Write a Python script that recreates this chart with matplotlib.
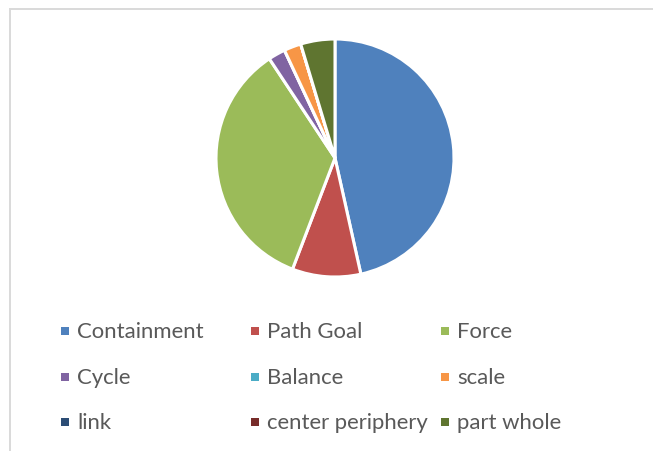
import matplotlib
matplotlib.use("Agg")
import matplotlib.pyplot as plt
from matplotlib.patches import Rectangle

# data (counts)
labels = ["Containment", "Path Goal", "Force",
          "Cycle", "Balance", "scale",
          "link", "center periphery", "part whole"]
values = [20, 4, 15, 1, 0, 1, 0, 0, 2]
colors = ["#4F81BD", "#C0504D", "#9BBB59",
          "#8064A2", "#4BACC6", "#F79646",
          "#2C4D75", "#772C2A", "#5F7530"]

plt.rcParams["font.family"] = ["Lato", "DejaVu Sans"]

W, H = 653, 452
fig = plt.figure(figsize=(W / 100, H / 100), dpi=100)

# chart frame
fig.patches.append(Rectangle((9.5 / W, -0.1), 1.2, 1 - 9.5 / H + 0.1,
                             transform=fig.transFigure, fill=False,
                             edgecolor="#D9D9D9", linewidth=1.4))

# pie
cx, cy, r = 335, 159, 119
ax = fig.add_axes([(cx - r) / W, (H - cy - r) / H, 2 * r / W, 2 * r / H])
ax.pie(values, colors=colors, startangle=90, counterclock=False,
       wedgeprops=dict(edgecolor="white", linewidth=2.2))
ax.set_aspect("equal")
ax.set_xlim(-1, 1)
ax.set_ylim(-1, 1)

# legend, 3 x 3 grid
col_x = [65, 255, 445]
row_y = [332, 378, 423]
for i, (lab, col) in enumerate(zip(labels, colors)):
    x = col_x[i % 3]
    y = row_y[i // 3]
    fig.patches.append(Rectangle(((x - 4) / W, (H - y - 4) / H), 8 / W, 8 / H,
                                 transform=fig.transFigure, facecolor=col,
                                 edgecolor="none"))
    fig.text((x + 12) / W, (H - y) / H, lab, fontsize=15.9, color="#595959",
             ha="left", va="center")

fig.savefig("out.png", dpi=100)
